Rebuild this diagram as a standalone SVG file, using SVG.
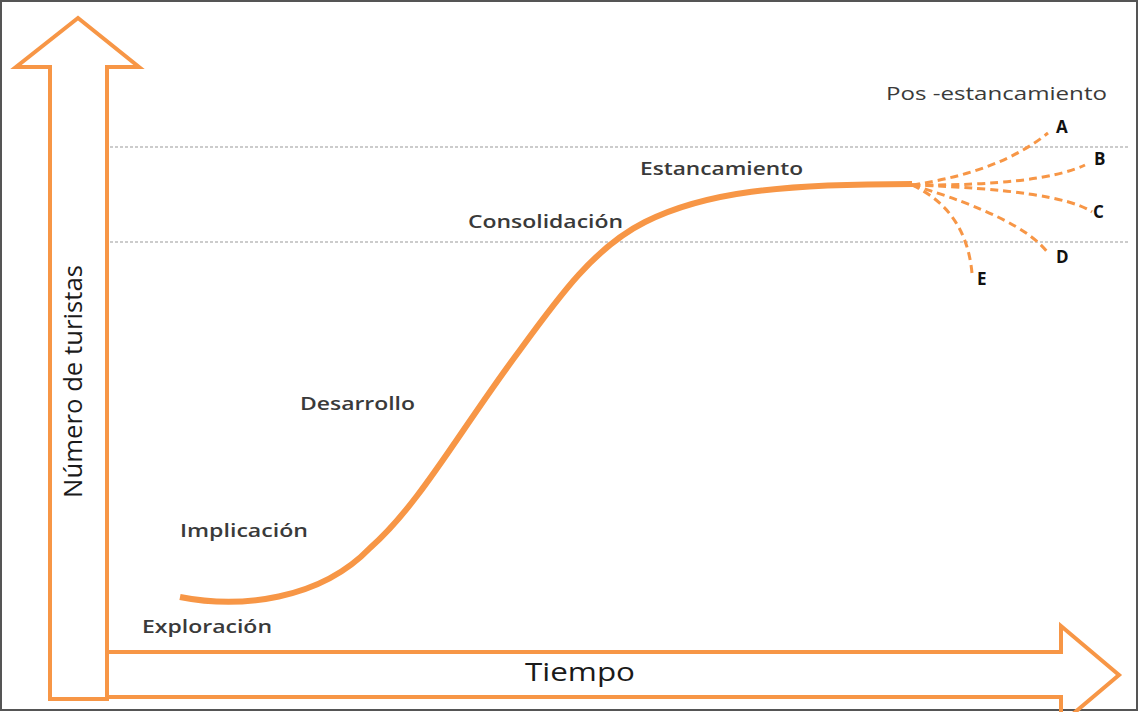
<svg xmlns="http://www.w3.org/2000/svg" width="1139" height="712" viewBox="0 0 1139 712">
<style>
.arrow{fill:none;stroke:#F79646;stroke-width:4;stroke-linejoin:miter}
.grid{stroke:#9a9a9a;stroke-width:1.2;stroke-dasharray:3 2;fill:none}
.curve{fill:none;stroke:#F79646;stroke-width:6;stroke-linecap:butt}
.branch{fill:none;stroke:#F79646;stroke-width:3;stroke-dasharray:8 5}
.lbl{font-family:"Open Sans","Liberation Sans",sans-serif;font-size:18px;font-weight:600;fill:#3a3a3a}
.big{font-family:"Open Sans","Liberation Sans",sans-serif;font-size:25px;fill:#1a1a1a}
.let{font-family:"Open Sans","Liberation Sans",sans-serif;font-size:17px;font-weight:bold;fill:#111}
</style>
<rect x="0" y="0" width="1139" height="712" fill="#ffffff"/>
<rect x="1" y="1" width="1136" height="709" fill="none" stroke="#555" stroke-width="2"/>
<g id="grid-lines">
<line class="grid" x1="110" y1="147" x2="1130" y2="147"/>
<line class="grid" x1="110" y1="242" x2="1130" y2="242"/>
</g>
<g id="y-axis">
<polygon class="arrow" points="78,18 139,67 107,67 107,699 50,699 50,67 16,67"/>
<text class="big" transform="translate(82,498) rotate(-90)" textLength="233" lengthAdjust="spacingAndGlyphs">Número de turistas</text>
</g>
<g id="x-axis">
<path class="arrow" d="M107,652 L1061,652 L1061,626 L1119,675 L1061,724 L1061,697 L107,697"/>
<text class="big" x="525" y="681" textLength="110" lengthAdjust="spacingAndGlyphs">Tiempo</text>
</g>
<g id="connectors">
<path class="curve" d="M180,597 C240,609 320,600 370,548 C420,504 460,430 520,350 C560,295 595,247 645,222 C705,192 780,184 912,184"/>
<path class="branch" d="M912,185 Q1000,172 1048,133"/>
<path class="branch" d="M912,185 Q1040,186 1085,165"/>
<path class="branch" d="M912,185 Q1060,190 1092,212"/>
<path class="branch" d="M912,185 Q1022,218 1048,253"/>
<path class="branch" d="M912,185 Q966,210 972,273"/>
</g>
<g id="stages">
<text class="lbl" x="142" y="633" textLength="130" lengthAdjust="spacingAndGlyphs">Exploración</text>
<text class="lbl" x="180" y="537" textLength="128" lengthAdjust="spacingAndGlyphs">Implicación</text>
<text class="lbl" x="300" y="410" textLength="115" lengthAdjust="spacingAndGlyphs">Desarrollo</text>
<text class="lbl" x="468" y="228" textLength="155" lengthAdjust="spacingAndGlyphs">Consolidación</text>
<text class="lbl" x="640" y="175" textLength="163" lengthAdjust="spacingAndGlyphs">Estancamiento</text>
<text class="lbl" x="886" y="100" textLength="221" lengthAdjust="spacingAndGlyphs" style="font-weight:normal">Pos -estancamiento</text>
</g>
<g id="options">
<text class="let" x="1056" y="133">A</text>
<text class="let" x="1094" y="165">B</text>
<text class="let" x="1093" y="218">C</text>
<text class="let" x="1056" y="263">D</text>
<text class="let" x="977" y="285">E</text>
</g>
</svg>
